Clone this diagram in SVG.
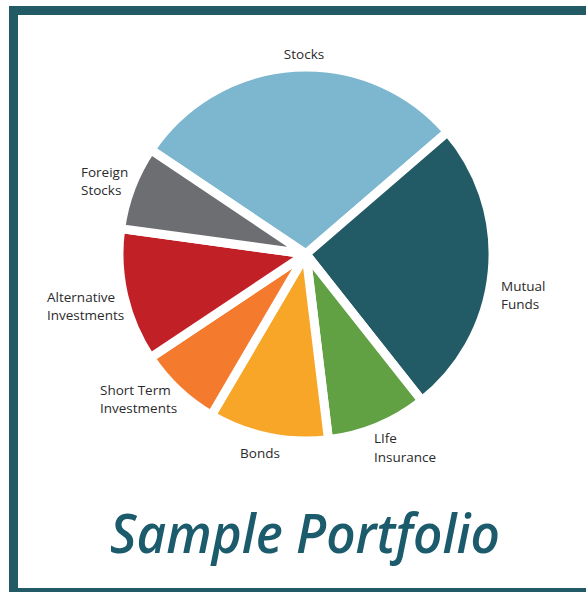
<svg xmlns="http://www.w3.org/2000/svg" width="586" height="592" viewBox="0 0 586 592">
<style>
.slice{stroke:#ffffff;stroke-width:9;stroke-linejoin:round}
.lbl{font-family:"Open Sans","Liberation Sans",sans-serif;font-size:13.5px;fill:#2b2b2b}
.title{font-family:"Open Sans","Liberation Sans",sans-serif;font-size:55px;font-style:italic;font-weight:600;fill:#1b5b6b}
</style>
<rect x="0" y="0" width="586" height="592" fill="#ffffff"/>
<rect x="13.5" y="10.5" width="600" height="582" fill="none" stroke="#225b65" stroke-width="9"/>
<g id="stocks">
<path class="slice" fill="#7db7cf" d="M306,254 L150.8,149.7 A187,187 0 0 1 447.6,131.8 Z"/>
<text class="lbl" x="304" y="59" text-anchor="middle">Stocks</text>
</g>
<g id="mutual-funds">
<path class="slice" fill="#225b66" d="M306,254 L447.6,131.8 A187,187 0 0 1 421.9,400.8 Z"/>
<text class="lbl" x="501" y="291">Mutual</text>
<text class="lbl" x="501" y="309">Funds</text>
</g>
<g id="life-insurance">
<path class="slice" fill="#62a044" d="M306,254 L421.9,400.8 A187,187 0 0 1 328.5,439.7 Z"/>
<text class="lbl" x="374" y="443">LIfe</text>
<text class="lbl" x="374" y="462">Insurance</text>
</g>
<g id="bonds">
<path class="slice" fill="#f8a628" d="M306,254 L328.5,439.7 A187,187 0 0 1 211.4,415.3 Z"/>
<text class="lbl" x="260" y="458" text-anchor="middle">Bonds</text>
</g>
<g id="short-term">
<path class="slice" fill="#f47b2e" d="M306,254 L211.4,415.3 A187,187 0 0 1 150.4,357.7 Z"/>
<text class="lbl" x="100" y="395">Short Term</text>
<text class="lbl" x="100" y="413">Investments</text>
</g>
<g id="alternative">
<path class="slice" fill="#c22027" d="M306,254 L150.4,357.7 A187,187 0 0 1 120.7,228.6 Z"/>
<text class="lbl" x="47" y="302">Alternative</text>
<text class="lbl" x="47" y="320">Investments</text>
</g>
<g id="foreign-stocks">
<path class="slice" fill="#6d6e71" d="M306,254 L120.7,228.6 A187,187 0 0 1 150.8,149.7 Z"/>
<text class="lbl" x="81" y="177">Foreign</text>
<text class="lbl" x="81" y="195">Stocks</text>
</g>
<g id="connectors"></g>
<text class="title" x="110" y="553" textLength="390" lengthAdjust="spacingAndGlyphs">Sample Portfolio</text>
</svg>
